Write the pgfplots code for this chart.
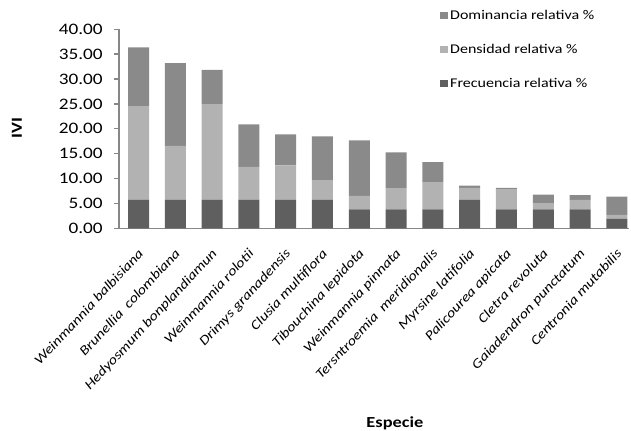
\documentclass[border=0pt]{standalone}
\usepackage{fontspec}
\setmainfont{Carlito}[FakeStretch=1.2]
\usepackage{pgfplots}
\usepackage{pgfplotstable}
\pgfplotsset{compat=1.18}

\definecolor{frec}{HTML}{5F5F5F}
\definecolor{dens}{HTML}{B2B2B2}
\definecolor{domi}{HTML}{8A8A8A}
\definecolor{axisgray}{HTML}{878787}

% IVI components per species
\pgfplotstableread{
x  fr    de     do
0  5.77  18.80  11.80
1  5.77  10.80  16.60
2  5.77  19.20   6.85
3  5.77   6.60   8.50
4  5.77   6.90   6.20
5  5.77   3.85   8.85
6  3.85   2.71  11.10
7  3.85   4.25   7.20
8  3.85   5.35   4.10
9  5.77   2.40   0.45
10 3.85   3.95   0.35
11 3.85   1.15   1.80
12 3.85   1.91   0.95
13 1.92   0.83   3.65
}\ivi

\begin{document}
\begin{tikzpicture}
\begin{axis}[
  at={(89.25pt,151.875pt)}, anchor=south west,
  scale only axis, width=382.5pt, height=149.5pt,
  ybar stacked, bar width=15.75pt,
  xmin=-0.53, xmax=13.33, ymin=0, ymax=40,
  ytick={0,5,...,40},
  xtick=data,
  xticklabels={Weinmannia balbisiana, Brunellia\ \ colombiana, Hedyosmum bonplandiamun,
    Weinmannia rolotii, Drimys granadensis, Clusia multiflora, Tibouchina lepidota,
    Weinmannia pinnata, Tersntroemia\ \ meridionalis, Myrsine latifolia,
    Palicourea apicata, Cletra revoluta, Gaiadendron punctatum, Centronia mutabilis},
  axis x line*=bottom, axis y line*=left,
  axis line style={-, axisgray, line width=1.2pt},
  xtick style={draw=none},
  ytick style={axisgray, line width=0.9pt},
  tick align=outside, major tick length=3.75pt,
  yticklabel style={font=\fontsize{12}{14}\selectfont, xshift=-5pt,
    /pgf/number format/.cd, fixed, fixed zerofill, precision=2, assume math mode=true},
  xticklabel style={font=\itshape\fontsize{10}{12}\selectfont, yshift=-9pt, xshift=-1pt,
    rotate=47, anchor=north east, inner sep=1pt},
  xlabel={Especie},
  xlabel style={font=\bfseries\fontsize{11.5}{13}\selectfont,
    at={(axis description cs:0.541,-0.92)}, anchor=north},
  ylabel={IVI},
  ylabel style={font=\bfseries\fontsize{11.5}{13}\selectfont,
    at={(axis description cs:-0.2,0.504)}, anchor=center, rotate=0},
  legend style={draw=none, fill=none, at={(axis description cs:0.629,1.111)},
    anchor=north west, font=\fontsize{10}{12}\selectfont, row sep=13pt,
    inner sep=0pt, cells={anchor=west}},
  reverse legend,
  legend image code/.code={\fill[#1,draw=none] (0pt,-2.8pt) rectangle (5.6pt,2.8pt);},
]
\addplot[fill=frec, draw=none] table[x=x, y=fr]{\ivi};
\addlegendentry{Frecuencia relativa \%}
\addplot[fill=dens, draw=none] table[x=x, y=de]{\ivi};
\addlegendentry{Densidad relativa \%}
\addplot[fill=domi, draw=none] table[x=x, y=do]{\ivi};
\addlegendentry{Dominancia relativa \%}
\end{axis}
\pgfresetboundingbox
\path[use as bounding box] (0,0) rectangle (473.25pt,323.25pt);
\end{tikzpicture}
\end{document}
